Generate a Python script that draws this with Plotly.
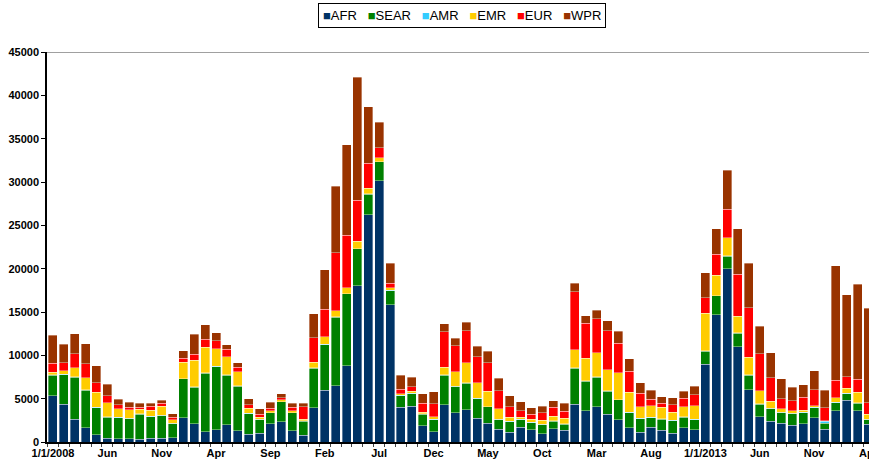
import plotly.graph_objects as go
import pandas as pd

months = [d.strftime("%Y-%m") for d in pd.date_range("2008-01-01", "2014-04-01", freq="MS")]

AFR = [5350, 4350, 2650, 1620, 850, 460, 380, 350, 310, 460, 460, 500,
       2810, 2120, 1190, 1420, 2000, 1310, 920, 1000, 2120, 2350, 1270, 770,
       3960, 6000, 6500, 8810, 18040, 26230, 30120, 15810, 4000, 4120, 1850, 1190,
       4270, 3350, 3730, 2730, 2150, 1500, 1120, 1730, 1420, 960, 1540, 1380,
       4380, 3620, 4080, 3230, 2540, 1650, 1150, 1690, 1380, 1000, 1620, 1420,
       9000, 14690, 20000, 11000, 6040, 2920, 2420, 2150, 1920, 2120, 2810, 1500,
       3580, 4810, 3580, 2040]
SEAR = [2380, 3420, 4810, 4340, 3110, 2420, 2430, 2380, 2920, 2460, 2620, 1650,
        4460, 4190, 6730, 7270, 5690, 5150, 2350, 1620, 1230, 2270, 2080, 1650,
        4540, 5230, 7880, 8270, 4230, 2350, 2190, 1650, 1350, 1460, 1380, 1390,
        3460, 3070, 3040, 2270, 1890, 1120, 1230, 850, 810, 1080, 880, 660,
        4120, 3380, 3420, 2620, 2310, 1730, 1540, 1120, 1270, 1460, 1260, 1150,
        1500, 2160, 1460, 1540, 1650, 1430, 1460, 1270, 1390, 1260, 1150, 650,
        960, 770, 920, 580]
AMR = [50, 50, 50, 50, 40, 40, 30, 30, 30, 30, 30, 30,
       50, 50, 50, 50, 50, 50, 40, 30, 30, 30, 30, 30,
       50, 50, 50, 50, 50, 50, 50, 40, 30, 30, 30, 30,
       40, 40, 40, 40, 40, 30, 30, 30, 30, 30, 30, 60,
       40, 40, 40, 40, 40, 40, 30, 30, 30, 30, 30, 80,
       50, 50, 50, 50, 50, 50, 40, 40, 30, 30, 60, 270,
       40, 40, 40, 30]
EMR = [240, 420, 1040, 1420, 1730, 1620, 1010, 970, 510, 740, 1010, 400,
       1870, 3060, 2990, 2030, 2110, 1610, 570, 200, 200, 200, 240, 200,
       680, 840, 720, 680, 870, 640, 410, 270, 200, 240, 200, 310,
       880, 1620, 2310, 1770, 1800, 1200, 500, 240, 390, 430, 510, 630,
       2080, 2650, 2730, 2460, 3110, 2310, 1320, 1350, 1320, 930, 1130, 1540,
       4330, 2330, 2030, 1910, 2030, 1520, 770, 350, 280, 280, 190, 40,
       540, 570, 1190, 540]
EUR = [1080, 890, 1650, 1620, 1080, 810, 420, 270, 230, 460, 340, 300,
       460, 730, 890, 920, 840, 530, 390, 340, 300, 230, 380, 1390,
       2810, 3190, 6660, 6040, 4730, 2920, 1190, 540, 500, 530, 1000, 1500,
       4080, 3040, 3690, 3000, 3270, 2070, 1200, 770, 580, 850, 1040, 810,
       6730, 4040, 3960, 4460, 3420, 2460, 1610, 770, 500, 850, 1000, 1270,
       1740, 2420, 3310, 4880, 5730, 4270, 2730, 1190, 1150, 1460, 1810, 1500,
       2000, 1350, 1500, 1350]
WPR = [3190, 2150, 2270, 2270, 2000, 1300, 690, 580, 500, 350, 350, 390,
       890, 2310, 1690, 930, 540, 500, 730, 660, 700, 460, 460, 420,
       2730, 4540, 7690, 10420, 14160, 6500, 2920, 2310, 1650, 1080, 1120, 1350,
       890, 840, 1000, 1230, 1350, 1430, 1270, 1030, 730, 800, 770, 960,
       960, 850, 1000, 1190, 1350, 1390, 1200, 1040, 730, 810, 810, 960,
       2920, 2930, 4500, 5200, 5120, 3160, 2850, 2270, 1540, 1470, 2230, 2040,
       13200, 9460, 11000, 10920]

tick_positions = [0, 5, 10, 15, 20, 25, 30, 35, 40, 45, 50, 55, 60, 65, 70, 75]
tick_labels = ["1/1/2008", "Jun", "Nov", "Apr", "Sep", "Feb", "Jul", "Dec", "May",
               "Oct", "Mar", "Aug", "1/1/2013", "Jun", "Nov", "Apr"]

series = [("AFR", AFR, "#003366"), ("SEAR", SEAR, "#008000"), ("AMR", AMR, "#33CCFF"),
          ("EMR", EMR, "#FFCC00"), ("EUR", EUR, "#FF0000"), ("WPR", WPR, "#993300")]

x = list(range(len(months)))
fig = go.Figure()
for name, vals, col in series:
    fig.add_trace(go.Bar(x=x, y=vals, name=name, marker_color=col,
                         marker_line=dict(width=0.6, color="rgba(255,255,255,0.6)"),
                         customdata=months, hovertemplate="%{customdata}: %{y}<extra>" + name + "</extra>",
                         showlegend=False))

legend_text = "   ".join(
    '<span style="color:%s">■</span>%s' % (col, name) for name, _, col in series)

fig.update_layout(
    barmode="stack", bargap=0.17,
    width=869, height=464,
    margin=dict(l=47, r=0, t=52, b=22, autoexpand=False),
    plot_bgcolor="white", paper_bgcolor="white",
    font=dict(family="Liberation Sans, Arial, sans-serif", color="black"),
    xaxis=dict(range=[-0.55, 75.05], tickmode="array", tickvals=tick_positions,
               ticktext=tick_labels, ticks="", showgrid=False, zeroline=False,
               showline=True, linecolor="black", linewidth=1.5, automargin=False,
               ticklabeloverflow="allow",
               tickfont=dict(size=11, weight="bold"),
               minor=dict(tickmode="linear", tick0=-0.5, dtick=1, ticks="outside",
                          ticklen=3, tickcolor="#444", showgrid=False)),
    yaxis=dict(range=[0, 45000], tickmode="linear", tick0=0, dtick=5000,
               tickformat="d", automargin=False,
               ticks="outside", ticklen=4, tickcolor="black", showgrid=False,
               zeroline=False, showline=True, linecolor="black", linewidth=1.5,
               tickfont=dict(size=11, weight="bold")),
    annotations=[dict(text=legend_text, xref="paper", yref="paper",
                      x=(462 - 47) / 822, y=(442 - 3) / 390, xanchor="center",
                      yanchor="top", showarrow=False, bordercolor="black",
                      borderwidth=1, borderpad=4, bgcolor="white",
                      font=dict(size=13, family="Liberation Sans, Arial, sans-serif"))],
    shapes=[dict(type="line", xref="paper", yref="y", x0=0, x1=1, y0=45000, y1=45000,
                 line=dict(color="#808080", width=1.5))],
)

fig.write_html("out.html", config={"displayModeBar": False},
               post_script="document.body.style.margin='0';document.body.style.overflow='hidden';")
